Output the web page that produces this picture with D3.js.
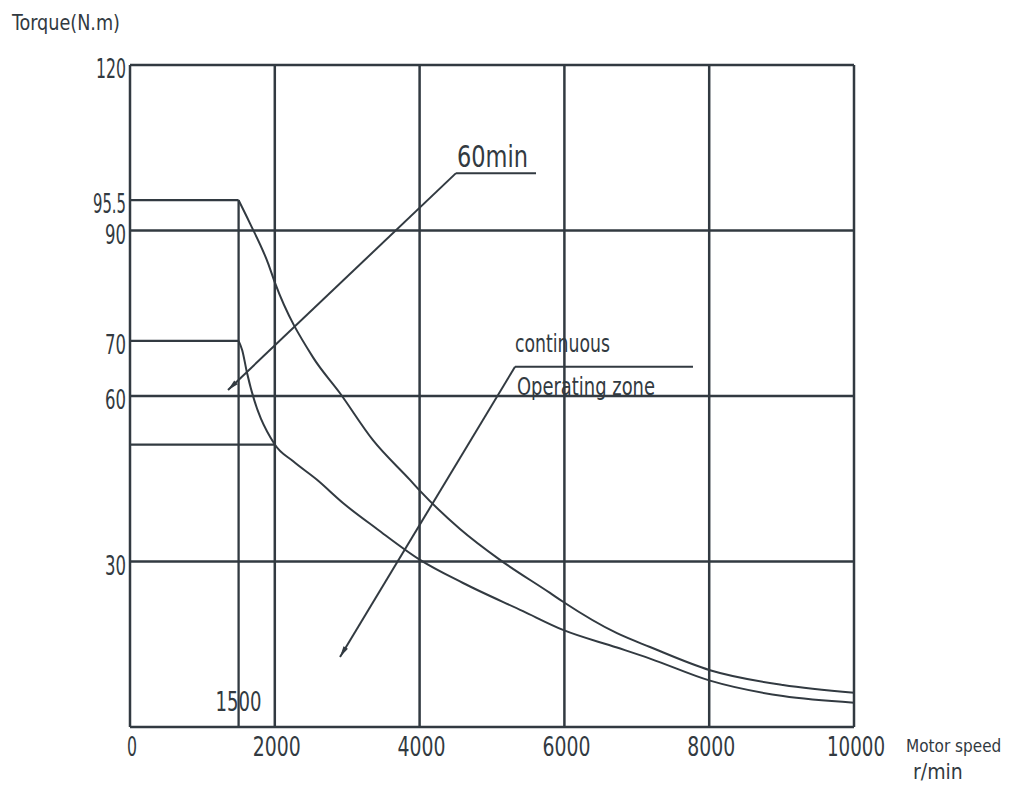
<!DOCTYPE html>
<html><head><meta charset="utf-8">
<script src="https://cdn.jsdelivr.net/npm/d3@7"></script>
<style>body{margin:0;background:#fff}</style></head>
<body><svg id="c" width="1011" height="792"></svg>
<script>
// ---- data ----
const xTicks = [0, 2000, 4000, 6000, 8000, 10000];
const xTickLabels = ["0", "2000", "4000", "6000", "8000", "10000"];
const yGrid = [30, 60, 90, 120];
const yTickValues = [120, 95.5, 90, 70, 60, 30];
const yTickLabels = ["120", "95.5", "90", "70", "60", "30"];
const peakTorque = 95.5, contTorque = 70, baseSpeed = 1500, kneeSpeed = 2000, kneeTorque = 51.2;
const speed60 = [1500,1657,1906,2003,2528,2901,3356,3867,4006,4558,5110,5801,5981,6726,7182,8011,9019,10000];
const torque60 = [95.5,91.3,84.1,80.5,67.0,60.5,52.0,44.8,42.8,35.9,30.3,24.3,22.7,17.0,14.5,10.3,7.6,6.2];
const speedCont = [1500,1550,1616,2000,2250,2583,2942,3412,4006,4600,5428,5981,6726,7182,8011,9019,10000];
const torqueCont = [70,68.3,64.2,51.2,48.2,44.8,40.6,35.9,30.3,26.1,21.0,17.6,14.4,12.4,8.4,5.6,4.4];

// ---- drawing ----
const svg = d3.select("#c");
const x = d3.scaleLinear([0, 10000], [130, 854]);
const y = d3.scaleLinear([0, 120], [727, 65]);
const ink = "#323a41";
const FONT = "'Liberation Sans Narrow','DejaVu Sans Condensed','Liberation Sans',sans-serif";

function txt(str, px, py, size, width, anchor) {
  const t = svg.append("text").attr("x", px).attr("y", py)
    .attr("font-family", FONT).attr("font-size", size).attr("fill", ink)
    .attr("text-anchor", anchor || "start")
    .text(str);
  if (width) t.attr("textLength", width).attr("lengthAdjust", "spacingAndGlyphs");
  return t;
}

const g = svg.append("g");
// vertical grid
g.selectAll(".vg").data(xTicks).join("line")
  .attr("x1", d => x(d)).attr("x2", d => x(d))
  .attr("y1", y(0)).attr("y2", y(120))
  .attr("stroke", ink).attr("stroke-width", 2.5);
// horizontal grid
g.selectAll(".hg").data(yGrid.concat([0])).join("line")
  .attr("x1", x(0)).attr("x2", x(10000))
  .attr("y1", d => y(d)).attr("y2", d => y(d))
  .attr("stroke", ink).attr("stroke-width", 2.5);
// partial lines
const partial = [[0, peakTorque, baseSpeed, peakTorque], [0, contTorque, baseSpeed, contTorque],
                 [0, kneeTorque, kneeSpeed, kneeTorque], [baseSpeed, peakTorque, baseSpeed, 0]];
g.selectAll(".pl").data(partial).join("line")
  .attr("x1", d => x(d[0])).attr("y1", d => y(d[1]))
  .attr("x2", d => x(d[2])).attr("y2", d => y(d[3]))
  .attr("stroke", ink).attr("stroke-width", 2.3);

// curves
const line = d3.line().x(d => x(d[0])).y(d => y(d[1])).curve(d3.curveMonotoneX);
svg.append("path").datum(d3.zip(speed60, torque60)).attr("d", line)
  .attr("fill", "none").attr("stroke", ink).attr("stroke-width", 2);
svg.append("path").datum(d3.zip(speedCont, torqueCont)).attr("d", line)
  .attr("fill", "none").attr("stroke", ink).attr("stroke-width", 2);

// x tick labels
const xw = s => s.length === 1 ? 10 : (s.length === 5 ? 58 : 48);
xTicks.forEach((v, i) => txt(xTickLabels[i], x(v) + 2, 756, 27, xw(xTickLabels[i]), "middle"));
// y tick labels
const yw = s => s.length === 2 ? 21 : (s.length === 3 ? 30 : 33);
yTickValues.forEach((v, i) => txt(yTickLabels[i], 126, y(v) + 13, 27, yw(yTickLabels[i]), "end"));
// 1500 label
txt("1500", x(baseSpeed), 711, 26, 46, "middle");

// axis titles
txt("Torque(N.m)", 12, 30, 22, 108);
txt("Motor speed", 906, 752, 17);
txt("r/min", 913, 779, 21);

// annotations
function arrow(x0, y0, x1, y1) {
  const X0 = x(x0), Y0 = y(y0), X1 = x(x1), Y1 = y(y1);
  svg.append("line").attr("x1", X0).attr("y1", Y0).attr("x2", X1).attr("y2", Y1)
    .attr("stroke", ink).attr("stroke-width", 2);
  const L = Math.hypot(X0 - X1, Y0 - Y1), ux = (X0 - X1) / L, uy = (Y0 - Y1) / L;
  const bx = X1 + ux * 11, by = Y1 + uy * 11;
  svg.append("path").attr("d", `M${X1},${Y1}L${bx - uy * 2.6},${by + ux * 2.6}L${bx + uy * 2.6},${by - ux * 2.6}Z`)
    .attr("fill", ink);
}
// 60min
txt("60min", 457, 167, 30, 71);
svg.append("line").attr("x1", x(4503)).attr("x2", x(5608)).attr("y1", y(100.4)).attr("y2", y(100.4))
  .attr("stroke", ink).attr("stroke-width", 2);
arrow(4503, 100.4, 1354, 61.1);
// continuous operating zone
txt("continuous", 515, 352, 24, 95);
txt("Operating zone", 517, 395, 24, 138);
svg.append("line").attr("x1", x(5318)).attr("x2", x(7776)).attr("y1", y(65.3)).attr("y2", y(65.3))
  .attr("stroke", ink).attr("stroke-width", 2);
arrow(5318, 65.3, 2901, 12.7);
</script>
</body></html>
